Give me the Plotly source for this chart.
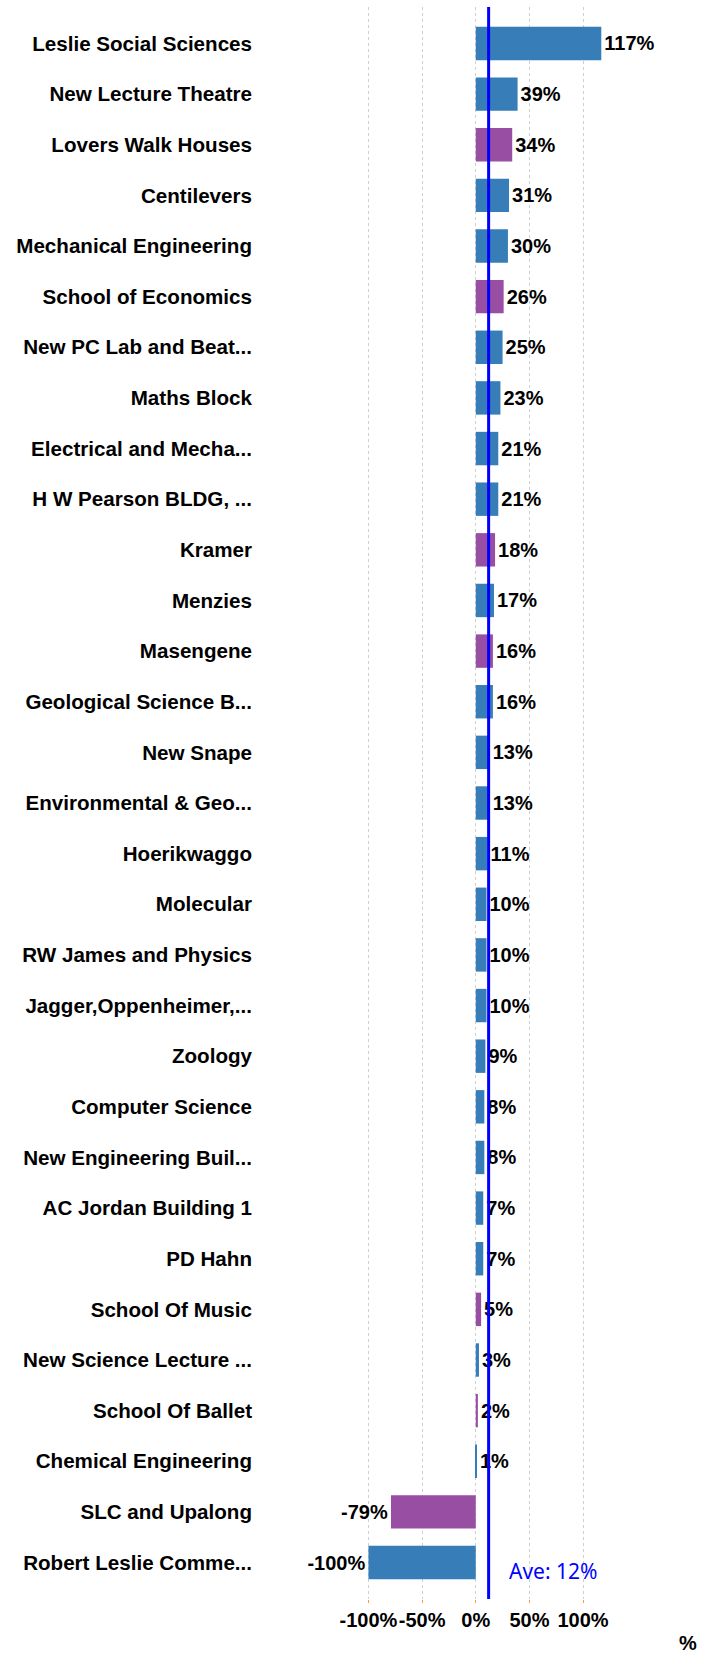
import plotly.graph_objects as go

categories = [
    "Leslie Social Sciences", "New Lecture Theatre", "Lovers Walk Houses", "Centilevers",
    "Mechanical Engineering", "School of Economics", "New PC Lab and Beat...", "Maths Block",
    "Electrical and Mecha...", "H W Pearson BLDG, ...", "Kramer", "Menzies", "Masengene",
    "Geological Science B...", "New Snape", "Environmental & Geo...", "Hoerikwaggo", "Molecular",
    "RW James and Physics", "Jagger,Oppenheimer,...", "Zoology", "Computer Science",
    "New Engineering Buil...", "AC Jordan Building 1", "PD Hahn", "School Of Music",
    "New Science Lecture ...", "School Of Ballet", "Chemical Engineering", "SLC and Upalong",
    "Robert Leslie Comme...",
]
values = [117, 39, 34, 31, 30, 26, 25, 23, 21, 21, 18, 17, 16, 16, 13, 13, 11, 10, 10, 10,
          9, 8, 8, 7, 7, 5, 3, 2, 1, -79, -100]
groups = ["a", "a", "b", "a", "a", "b", "a", "a", "a", "a", "b", "a", "b", "a", "a", "a", "a",
          "a", "a", "a", "a", "a", "a", "a", "a", "b", "a", "b", "a", "b", "a"]
group_colors = {"a": "#377eb8", "b": "#984ea3"}
tick_vals = [-100, -50, 0, 50, 100]
tick_text = ["-100%", "-50%", "0%", "50%", "100%"]

avg = sum(values) / len(values)

font_family = "Arial, 'Liberation Sans', sans-serif"

fig = go.Figure()
fig.add_trace(go.Bar(
    x=values,
    y=categories,
    orientation="h",
    marker=dict(color=[group_colors[g] for g in groups], line=dict(width=0)),
    text=[f"{v}%" for v in values],
    textposition="outside",
    textfont=dict(family=font_family, size=20, color="#000000", weight="bold"),
    constraintext="none",
    cliponaxis=False,
    hoverinfo="skip",
))

fig.add_shape(type="line", xref="x", yref="paper", x0=avg, x1=avg, y0=0, y1=1,
              line=dict(color="#0000ff", width=3), layer="above")

fig.add_annotation(x=avg, y=categories[-1], xref="x", yref="y",
                   text=f"Ave: {avg:.0f}%", showarrow=False,
                   xanchor="left", yanchor="middle", xshift=18, yshift=-8,
                   font=dict(family="'Noto Sans', 'Open Sans', sans-serif",
                             size=21, color="#0000ff"))

fig.add_annotation(x=1, y=0, xref="paper", yref="paper", text="%", showarrow=False,
                   xanchor="right", yanchor="top", xshift=-1, yshift=-31,
                   font=dict(family=font_family, size=20, color="#000000", weight="bold"))

fig.update_layout(
    width=712, height=1654,
    margin=dict(l=256, r=12, t=7, b=55),
    paper_bgcolor="white", plot_bgcolor="white",
    showlegend=False,
    bargap=0.34,
    xaxis=dict(
        range=[-204.8, 209.0],
        tickvals=tick_vals, ticktext=tick_text, tickangle=0,
        tickfont=dict(family=font_family, size=20, color="#000000", weight="bold"),
        showgrid=True, gridcolor="#cfcfcf", griddash="3px,3px", gridwidth=1,
        zeroline=False, showline=False,
        ticks="outside", ticklen=3, tickcolor="#ff9a3c", tickwidth=1,
        automargin=False, fixedrange=True,
    ),
    yaxis=dict(
        type="category",
        categoryorder="array", categoryarray=categories,
        range=[len(categories) - 1 + 0.72, -0.72],
        tickfont=dict(family=font_family, size=20.6, color="#000000", weight="bold"),
        ticklabelstandoff=3,
        showgrid=False, zeroline=False, showline=False, ticks="",
        automargin=False, fixedrange=True,
    ),
)

fig.write_html(
    "out.html",
    config={"displayModeBar": False},
    post_script="document.body.style.margin='0';document.body.style.overflow='hidden';",
)
